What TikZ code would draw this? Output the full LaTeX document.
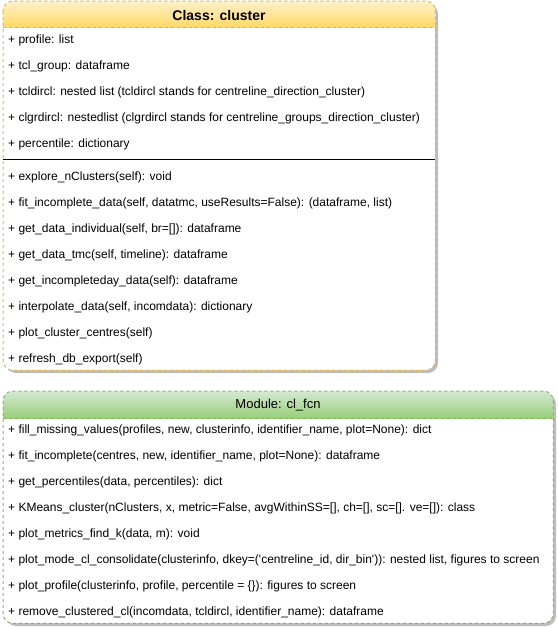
\documentclass[tikz,border=0pt]{standalone}
\usepackage{fontspec}
\setmainfont{Liberation Sans}
\usetikzlibrary{positioning}
\definecolor{ylw}{HTML}{D6B656}
\definecolor{ylwtop}{HTML}{FFF2CC}
\definecolor{ylwbot}{HTML}{FFD966}
\definecolor{grn}{HTML}{82B366}
\definecolor{grntop}{HTML}{D5E8D4}
\definecolor{grnbot}{HTML}{97D077}
\definecolor{shd}{HTML}{BDBDBD}
\tikzset{
  umlbox/.style={fill=white,rounded corners=10pt,anchor=north west,inner sep=0pt},
  brd/.style={draw=#1,line width=1pt,dash pattern=on 3pt off 3pt,rounded corners=10pt},
  row/.style={anchor=west,inner sep=0pt,font=\fontsize{12}{14}\selectfont},
  ttl/.style={inner sep=0pt,font=\fontsize{13}{15}\selectfont}
}
\begin{document}
\begin{tikzpicture}[x=1pt,y=-1pt]
\useasboundingbox (0,0) rectangle (557,629);
% class box
\fill[shd,rounded corners=10pt] (6,4) rectangle (438,373);
\node[umlbox,minimum width=432pt,minimum height=369pt] (cls) at (3,1) {};
\begin{scope}
\clip[rounded corners=10pt] (cls.north west) rectangle (cls.south east);
\shade[top color=ylwtop,bottom color=ylwbot] (cls.north west) rectangle ([yshift=-26pt]cls.north east);
\end{scope}
\draw[brd=ylw,sharp corners] ([yshift=-26pt]cls.north west) -- ([yshift=-26pt]cls.north east);
\draw[brd=ylw] (cls.north west) rectangle (cls.south east);
\draw[line width=1pt] ([yshift=-158pt]cls.north west) -- ([yshift=-158pt]cls.north east);
\node[ttl,font=\fontsize{14}{16}\selectfont\bfseries] (clsT) at (219,15) {Class: cluster};
\node[row] (a1) at (8,40) {+ profile: list};
\node[row] (a2) at (8,66) {+ tcl\_group: dataframe};
\node[row] (a3) at (8,92) {+ tcldircl: nested list (tcldircl stands for centreline\_direction\_cluster)};
\node[row] (a4) at (8,118) {+ clgrdircl: nestedlist (clgrdircl stands for centreline\_groups\_direction\_cluster)};
\node[row] (a5) at (8,144) {+ percentile: dictionary};
\node[row] (m1) at (8,177) {+ explore\_nClusters(self): void};
\node[row] (m2) at (8,203) {+ fit\_incomplete\_data(self, datatmc, useResults=False): (dataframe, list)};
\node[row] (m3) at (8,229) {+ get\_data\_individual(self, br=[]): dataframe};
\node[row] (m4) at (8,255) {+ get\_data\_tmc(self, timeline): dataframe};
\node[row] (m5) at (8,281) {+ get\_incompleteday\_data(self): dataframe};
\node[row] (m6) at (8,307) {+ interpolate\_data(self, incomdata): dictionary};
\node[row] (m7) at (8,333) {+ plot\_cluster\_centres(self)};
\node[row] (m8) at (8,359) {+ refresh\_db\_export(self)};
% module box
\fill[shd,rounded corners=10pt] (6,394) rectangle (556,626);
\node[umlbox,minimum width=550pt,minimum height=232pt] (mod) at (3,391) {};
\begin{scope}
\clip[rounded corners=10pt] (mod.north west) rectangle (mod.south east);
\shade[top color=grntop,bottom color=grnbot] (mod.north west) rectangle ([yshift=-27pt]mod.north east);
\end{scope}
\draw[brd=grn,sharp corners] ([yshift=-27pt]mod.north west) -- ([yshift=-27pt]mod.north east);
\draw[brd=grn] (mod.north west) rectangle (mod.south east);
\node[ttl] (modT) at (278,405) {Module: cl\_fcn};
\node[row] (f1) at (8,430) {+ fill\_missing\_values(profiles, new, clusterinfo, identifier\_name, plot=None): dict};
\node[row] (f2) at (8,456) {+ fit\_incomplete(centres, new, identifier\_name, plot=None): dataframe};
\node[row] (f3) at (8,482) {+ get\_percentiles(data, percentiles): dict};
\node[row] (f4) at (8,508) {+ KMeans\_cluster(nClusters, x, metric=False, avgWithinSS=[], ch=[], sc=[]. ve=[]): class};
\node[row] (f5) at (8,534) {+ plot\_metrics\_find\_k(data, m): void};
\node[row] (f6) at (8,560) {+ plot\_mode\_cl\_consolidate(clusterinfo, dkey=(\textquotesingle centreline\_id, dir\_bin\textquotesingle)): nested list, figures to screen};
\node[row] (f7) at (8,586) {+ plot\_profile(clusterinfo, profile, percentile = \{\}): figures to screen};
\node[row] (f8) at (8,612) {+ remove\_clustered\_cl(incomdata, tcldircl, identifier\_name): dataframe};
\end{tikzpicture}
\end{document}
